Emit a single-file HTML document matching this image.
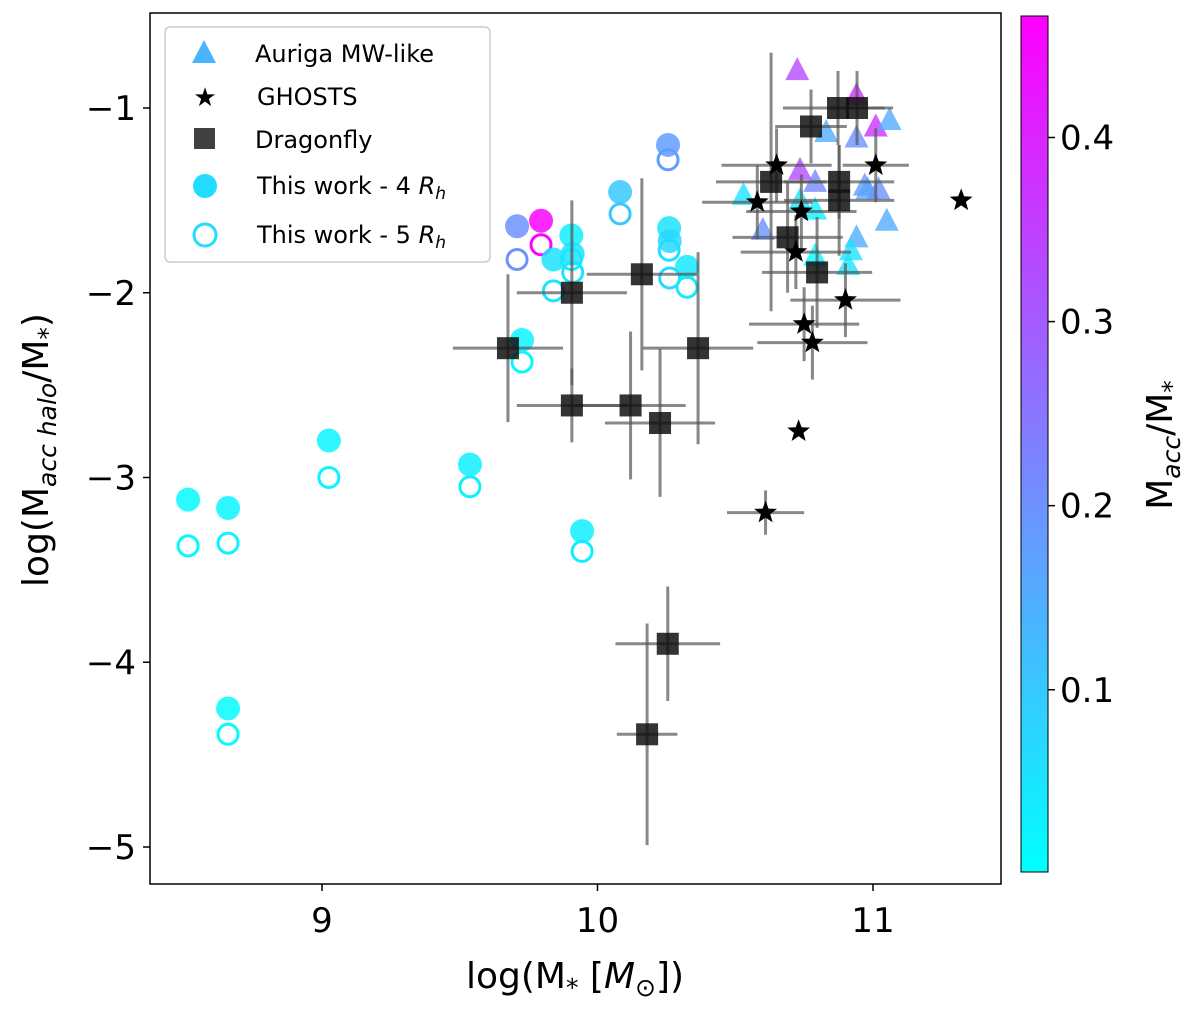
<!DOCTYPE html>
<html><head><meta charset="utf-8"><style>
html,body{margin:0;padding:0;background:#fff;}
svg{display:block;font-family:"DejaVu Sans","Liberation Sans",sans-serif;}
</style></head><body>
<svg id="chart" width="1200" height="1012" viewBox="0 0 1200 1012" xmlns="http://www.w3.org/2000/svg">
<defs>
<linearGradient id="cbar" x1="0" y1="1" x2="0" y2="0">
<stop offset="0" stop-color="#00ffff"/><stop offset="1" stop-color="#ff00ff"/>
</linearGradient>
<clipPath id="clip"><rect x="150" y="13" width="851" height="871"/></clipPath>
</defs>
<g id="marks" clip-path="url(#clip)"></g>
<rect x="150" y="13" width="851" height="871" fill="none" stroke="#000" stroke-width="1.5"/>
<g id="axes"></g>
<g>
<rect x="165" y="27" width="325" height="235" rx="5" fill="#fff" fill-opacity="0.85" stroke="#ccc" stroke-width="1.5"/>
<polygon points="204,40 192,63 216,63" fill="#4ab5ff"/>
<text x="255" y="62" font-size="24">Auriga MW-like</text>
<text x="205" y="106" font-size="26" text-anchor="middle">★</text>
<text x="257" y="105" font-size="24">GHOSTS</text>
<rect x="194" y="128" width="21" height="21" fill="#404040"/>
<text x="255" y="148" font-size="24">Dragonfly</text>
<circle cx="205" cy="186" r="12" fill="#22ddff"/>
<text x="257" y="194" font-size="24">This work - 4 <tspan font-style="italic">R</tspan><tspan font-style="italic" font-size="17" dy="5">h</tspan></text>
<circle cx="205" cy="235" r="11" fill="none" stroke="#22ddff" stroke-width="3"/>
<text x="257" y="243" font-size="24">This work - 5 <tspan font-style="italic">R</tspan><tspan font-style="italic" font-size="17" dy="5">h</tspan></text>
</g>
<rect x="1021" y="16" width="27" height="856" fill="url(#cbar)" stroke="#000" stroke-width="1"/>
<text transform="translate(1172,445) rotate(-90)" font-size="36" text-anchor="middle">M<tspan font-size="25" dy="8" font-style="italic">acc</tspan><tspan dy="-8">/M</tspan><tspan font-size="25" dy="8">*</tspan></text>
<text x="575" y="988" font-size="36" text-anchor="middle">log(M<tspan font-size="25" dy="8">*</tspan><tspan dy="-8">  [</tspan><tspan font-style="italic">M</tspan><tspan font-size="25" dy="8">⊙</tspan><tspan dy="-8">])</tspan></text>
<text transform="translate(48,450) rotate(-90)" font-size="36" text-anchor="middle">log(M<tspan font-size="25" dy="8" font-style="italic">acc halo</tspan><tspan dy="-8">/M</tspan><tspan font-size="25" dy="8">*</tspan><tspan dy="-8">)</tspan></text>
</svg>
<script>
const xTicks=[9,10,11];
const yTicks=[-1,-2,-3,-4,-5];
const cTicks=[0.1,0.2,0.3,0.4];
// This work: x, y(4Rh), y(5Rh), colour value
const twX=[8.514,8.659,8.659,9.025,9.537,9.944,9.726,9.708,9.795,9.905,9.91,9.84,10.082,10.256,10.26,10.262,10.325];
const tw4=[-3.12,-3.165,-4.25,-2.80,-2.93,-3.29,-2.256,-1.64,-1.61,-1.69,-1.79,-1.82,-1.455,-1.20,-1.65,-1.72,-1.86];
const tw5=[-3.37,-3.355,-4.39,-3.00,-3.05,-3.40,-2.375,-1.82,-1.74,-1.82,-1.89,-1.99,-1.573,-1.28,-1.77,-1.92,-1.97];
const twC=[0.01,0.02,0.01,0.02,0.03,0.03,0.02,0.2,0.46,0.03,0.05,0.05,0.1,0.18,0.05,0.07,0.04];
// Auriga
const auX=[10.725,10.94,11.01,11.06,10.83,10.94,10.735,10.79,10.53,10.98,11.02,10.735,10.79,10.6,11.05,10.94,10.92,10.79,10.91,10.97];
const auY=[-0.795,-0.93,-1.10,-1.065,-1.13,-1.16,-1.335,-1.40,-1.47,-1.44,-1.44,-1.50,-1.55,-1.66,-1.61,-1.70,-1.77,-1.80,-1.85,-1.42];
const auC=[0.33,0.38,0.37,0.15,0.15,0.2,0.33,0.22,0.05,0.15,0.2,0.05,0.03,0.2,0.15,0.15,0.05,0.02,0.05,0.18];
// GHOSTS
const ghX=[10.65,10.58,10.74,11.01,11.32,10.72,10.90,10.75,10.78,10.73,10.61];
const ghY=[-1.31,-1.51,-1.56,-1.31,-1.50,-1.78,-2.04,-2.17,-2.27,-2.75,-3.19];
const ghXe=[0.2,0.2,0.2,0.12,0,0.2,0.2,0.2,0.2,0,0.14];
const ghYe=[0.2,0.2,0.2,0.2,0,0.2,0.2,0.2,0.2,0,0.12];
// Dragonfly
const dfX=[9.675,9.907,10.161,10.365,9.907,10.12,10.227,10.255,10.18,10.873,10.942,10.775,10.63,10.877,10.69,10.797,10.877];
const dfY=[-2.30,-2.00,-1.90,-2.30,-2.61,-2.61,-2.705,-3.90,-4.39,-1.00,-1.00,-1.10,-1.40,-1.40,-1.70,-1.89,-1.50];
const dfXe=[0.2,0.2,0.2,0.2,0.2,0.2,0.2,0.19,0.11,0.2,0.1,0.13,0.2,0.2,0.2,0.2,0.2];
const dfYe=[0.4,0.5,0.52,0.52,0.2,0.4,0.4,0.31,0.6,0.2,0.2,0.2,0.7,0.2,0.3,0.3,0.3];

const X=v=>322+(v-9)*275.5;
const Y=v=>108+(-1-v)*184.75;
const C=v=>872-(v-0.001)*(856/0.465);
function col(v){let t=Math.max(0,Math.min(1,(v-0.001)/0.465));return `rgb(${Math.round(255*t)},${Math.round(255*(1-t))},255)`;}
const NS='http://www.w3.org/2000/svg';
function mk(parent,tag,attrs){const e=document.createElementNS(NS,tag);for(const k in attrs)e.setAttribute(k,attrs[k]);parent.appendChild(e);return e;}
const g=document.getElementById('marks');
const ax=document.getElementById('axes');

xTicks.forEach(t=>{
 const l=mk(ax,'line',{x1:X(t),x2:X(t),y1:884,y2:891,stroke:'#000','stroke-width':1.5});
 
 
 const s=mk(ax,'text',{x:X(t),y:932,'font-size':34,'text-anchor':'middle'});s.textContent=t;
 
 
});
yTicks.forEach(t=>{
 const l=mk(ax,'line',{x1:143,x2:150,y1:Y(t),y2:Y(t),stroke:'#000','stroke-width':1.5});
 
 
 const s=mk(ax,'text',{x:136,y:Y(t)+12,'font-size':34,'text-anchor':'end'});s.textContent='\u2212'+Math.abs(t);
 
 
});
cTicks.forEach(t=>{
 const l=mk(ax,'line',{x1:1048,x2:1055,y1:C(t),y2:C(t),stroke:'#000','stroke-width':1.5});
 
 
 const s=mk(ax,'text',{x:1060,y:C(t)+12,'font-size':34});s.textContent=t.toFixed(1);
 
 
});

// This work circles
twX.forEach((x,i)=>{
 const o=mk(g,'circle',{cx:X(x),cy:Y(tw5[i]),r:10,fill:'none',stroke:col(twC[i]),'stroke-width':3});
 
 
 const f=mk(g,'circle',{cx:X(x),cy:Y(tw4[i]),r:12,fill:col(twC[i]),'fill-opacity':0.85});
 
 
});
// Auriga triangles
auX.forEach((x,i)=>{
 const cx=X(x),cy=Y(auY[i]);
 const p=mk(g,'polygon',{points:`${cx},${cy-13} ${cx-12},${cy+10} ${cx+12},${cy+10}`,fill:col(auC[i]),'fill-opacity':0.8});
 
 
});
// error bars
function eb(x,y,xe,ye,name){
 if(xe>0){const l=mk(g,'line',{x1:X(x-xe),x2:X(x+xe),y1:Y(y),y2:Y(y),stroke:'#555','stroke-opacity':0.7,'stroke-width':3});
 
 }
 if(ye>0){const l=mk(g,'line',{x1:X(x),x2:X(x),y1:Y(y+ye),y2:Y(y-ye),stroke:'#555','stroke-opacity':0.7,'stroke-width':3});
 
 }
}
dfX.forEach((x,i)=>eb(x,dfY[i],dfXe[i],dfYe[i],'dragonfly-errorbar'));
ghX.forEach((x,i)=>eb(x,ghY[i],ghXe[i],ghYe[i],'ghosts-errorbar'));
dfX.forEach((x,i)=>{
 const r=mk(g,'rect',{x:X(x)-11,y:Y(dfY[i])-11,width:22,height:22,fill:'#111','fill-opacity':0.85});
 
 
});
ghX.forEach((x,i)=>{
 const cx=X(x),cy=Y(ghY[i]);let pts=[];
 for(let k=0;k<10;k++){const a=-Math.PI/2+k*Math.PI/5;const rr=k%2?5:12;pts.push((cx+rr*Math.cos(a)).toFixed(1)+','+(cy+rr*Math.sin(a)).toFixed(1));}
 const p=mk(g,'polygon',{points:pts.join(' '),fill:'#000'});
 
 
});
</script>
</body></html>
